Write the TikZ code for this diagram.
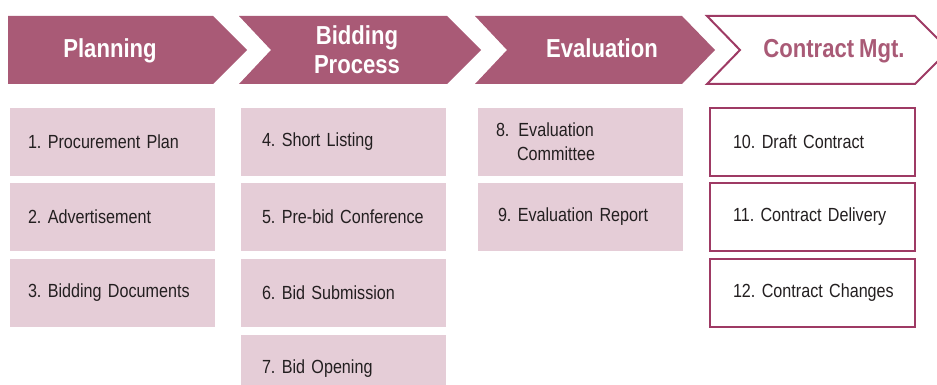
\documentclass[tikz,border=0pt]{standalone}
\usepackage{fontspec}
\setmainfont{Liberation Sans}[FakeStretch=0.85, WordSpace=0.8]
\usetikzlibrary{positioning}
\definecolor{Plum}{RGB}{169,90,118}
\definecolor{LightPlum}{RGB}{229,205,215}
\definecolor{DarkPlum}{RGB}{158,58,100}
\definecolor{Ink}{RGB}{35,31,32}

\begin{document}
\frenchspacing
\hyphenpenalty=10000
\exhyphenpenalty=10000
\begin{tikzpicture}[x=1pt, y=-1pt,
		stage/.style={font=\fontsize{26}{29}\selectfont\bfseries, text=white, align=center, inner sep=0pt},
		task/.style={fill=LightPlum, minimum width=205pt, minimum height=68pt, text width=185pt, inner xsep=10pt, align=left, font=\fontsize{19}{24}\selectfont, text=Ink, execute at begin node={\hspace*{#1}}},
		task/.default=8pt,
		mgt/.style={task=#1, fill=white, draw=DarkPlum, line width=2pt},
		mgt/.default=13pt
		]
		\useasboundingbox (0,0) rectangle (937,385);
		\clip (0,0) rectangle (937,385);

		% stages
		\fill[Plum] (8,16) -- (213,16) -- (247,50) -- (213,84) -- (8,84) -- cycle;
		\fill[Plum] (239,16) -- (447,16) -- (481,50) -- (447,84) -- (239,84) -- (271,50) -- cycle;
		\fill[Plum] (475,16) -- (682,16) -- (715,50) -- (682,84) -- (475,84) -- (507,50) -- cycle;
		\draw[DarkPlum, line width=2pt] (707,16) -- (915,16) -- (949,50) -- (915,84) -- (707,84) -- (740,50) -- cycle;

		\node[stage, anchor=base] (P) at (110,58) {Planning};
		\node[stage] (B) at (357,49.5) {Bidding\\Process};
		\node[stage, anchor=base] (E) at (602,58) {Evaluation};
		\node[stage, anchor=base, text=Plum] (C) at (834,58) {Contract Mgt.};

		% tasks
		\node[task] (P1) at (112.5,142) {1. Procurement Plan};
		\node[task] (P2) at (112.5,217) {2. Advertisement};
		\node[task] (P3) at (112.5,293) {3. Bidding Documents};

		\node[task=11pt] (B4) at (343.5,142) {4. Short Listing};
		\node[task=11pt] (B5) at (343.5,217) {5. Pre-bid Conference};
		\node[task=11pt] (B6) at (343.5,293) {6. Bid Submission};
		\node[task=11pt] (B7) at (343.5,369) {7. Bid Opening};

		\node[task] (E8) at (580.5,142) {8.\hspace{9pt}Evaluation\\\hspace*{29pt}Committee};
		\node[task=10pt] (E9) at (580.5,217) {9. Evaluation Report};

		\node[mgt] (C10) at (812.5,142) {10. Draft Contract};
		\node[mgt] (C11) at (812.5,217) {11. Contract Delivery};
		\node[mgt] (C12) at (812.5,293) {12. Contract Changes};
	\end{tikzpicture}
\end{document}
